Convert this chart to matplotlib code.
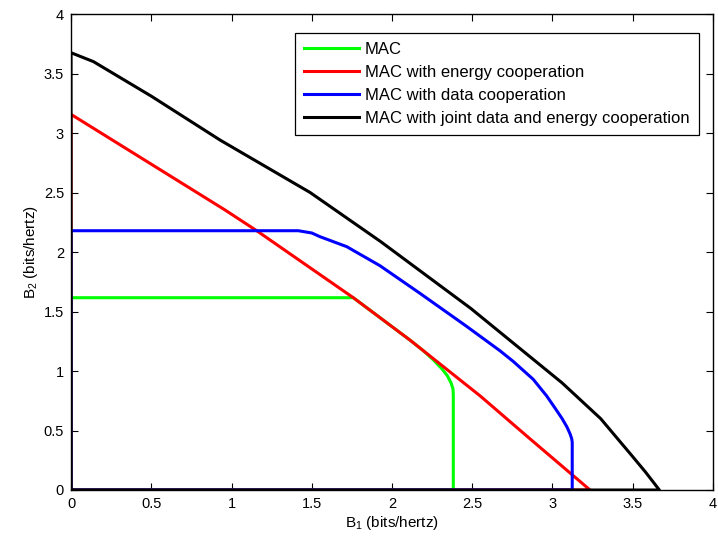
import numpy as np
import matplotlib
matplotlib.use("Agg")
import matplotlib.pyplot as plt
from matplotlib.ticker import FormatStrFormatter

plt.rcParams["font.family"] = ["Liberation Sans", "DejaVu Sans"]
plt.rcParams["mathtext.fontset"] = "custom"
plt.rcParams["mathtext.rm"] = "Liberation Sans"
plt.rcParams["mathtext.it"] = "Liberation Sans"

# --- rate regions (B1, B2), closed along the axes ---
mac_b1 = [0, 0, 1.759, 2.0, 2.112, 2.20, 2.26, 2.31, 2.345, 2.368, 2.38, 2.382, 2.382, 0]
mac_b2 = [0, 1.616, 1.616, 1.373, 1.26, 1.165, 1.09, 1.02, 0.96, 0.90, 0.85, 0.80, 0, 0]

energy_b1 = [0, 0, 0.96, 1.157, 1.759, 2.112, 2.55, 2.86, 3.234, 0]
energy_b2 = [0, 3.157, 2.353, 2.179, 1.616, 1.26, 0.79, 0.43, 0, 0]

data_b1 = [0, 0, 1.416, 1.50, 1.551, 1.718, 1.925, 2.174, 2.46, 2.673, 2.756, 2.88,
           2.964, 3.02, 3.06, 3.09, 3.11, 3.12, 3.123, 3.123, 0]
data_b2 = [0, 2.179, 2.179, 2.16, 2.129, 2.045, 1.885, 1.653, 1.38, 1.17, 1.08, 0.93,
           0.79, 0.68, 0.60, 0.53, 0.47, 0.43, 0.40, 0, 0]

joint_b1 = [0, 0, 0.14, 0.5, 0.93, 1.49, 1.93, 2.49, 3.06, 3.30, 3.50, 3.58, 3.666, 0]
joint_b2 = [0, 3.675, 3.60, 3.31, 2.94, 2.50, 2.087, 1.527, 0.90, 0.60, 0.28, 0.15, 0, 0]

labels = [
    "MAC",
    "MAC with energy cooperation",
    "MAC with data cooperation",
    "MAC with joint data and energy cooperation",
]
colors = ["#00ff00", "#ff0000", "#0000ff", "#000000"]

fig = plt.figure(figsize=(7.18, 5.4), dpi=100)
ax = fig.add_axes([0.0989, 0.0926, 0.8941, 0.8814])

curves = [(mac_b1, mac_b2), (energy_b1, energy_b2), (data_b1, data_b2), (joint_b1, joint_b2)]
for (xs, ys), lab, c in zip(curves, labels, colors):
    ax.plot(xs, ys, color=c, linewidth=2.2, label=lab, solid_joinstyle="round")

ax.set_xlim(0, 4)
ax.set_ylim(0, 4)
ax.set_xticks(np.arange(0, 4.01, 0.5))
ax.set_yticks(np.arange(0, 4.01, 0.5))
ax.xaxis.set_major_formatter(FormatStrFormatter("%g"))
ax.yaxis.set_major_formatter(FormatStrFormatter("%g"))
ax.tick_params(direction="in", top=True, right=True, length=5, width=0.8,
               labelsize=10.5, pad=5)
for sp in ax.spines.values():
    sp.set_linewidth(1.0)

ax.set_xlabel("B$_1$ (bits/hertz)", fontsize=11, labelpad=2)
ax.set_ylabel("B$_2$ (bits/hertz)", fontsize=11, labelpad=3)

leg = ax.legend(
    loc="upper right",
    bbox_to_anchor=(0.978, 0.961),
    fontsize=12,
    handlelength=3.3,
    labelspacing=0.48,
    borderpad=0.55,
    handletextpad=0.35,
    fancybox=False,
    framealpha=1,
    edgecolor="black",
    borderaxespad=0,
)
leg.get_frame().set_linewidth(0.9)

fig.savefig("out.png", dpi=100)
